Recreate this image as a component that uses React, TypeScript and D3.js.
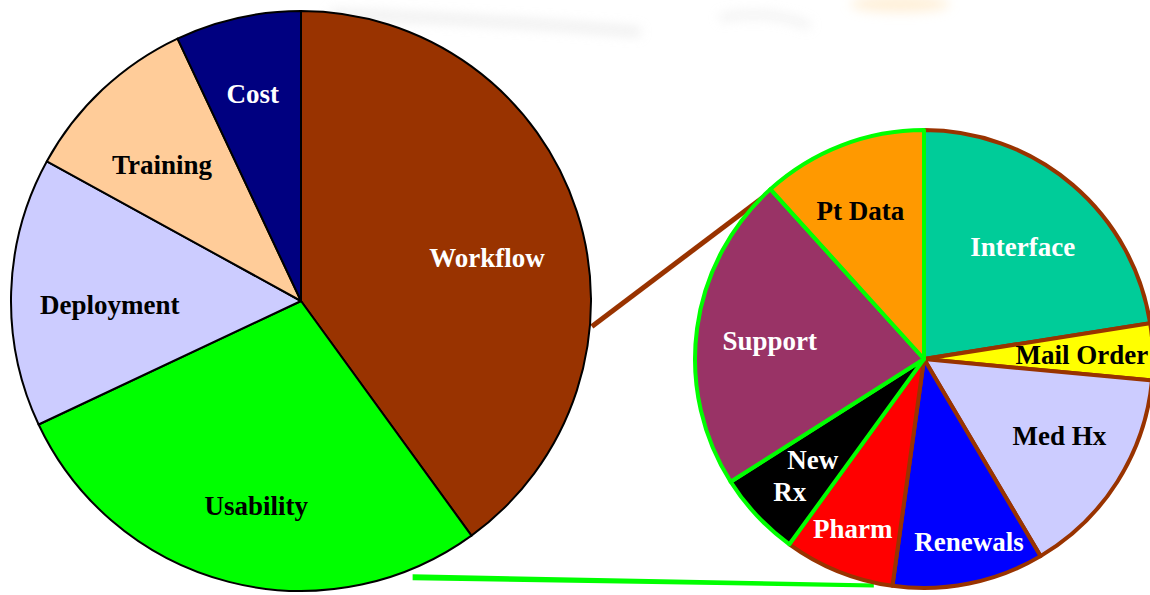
import React from "react";
import * as d3 from "d3";

// ---- data ----
const mainCategories = ["Workflow", "Usability", "Deployment", "Training", "Cost"];
const mainValues = [40, 28, 15, 10, 7];
const mainColors = ["#993300", "#00ff00", "#ccccff", "#ffcc99", "#000080"];
const mainLabelColors = ["#ffffff", "#000000", "#000000", "#000000", "#ffffff"];

const subCategories = ["Interface", "Mail Order", "Med Hx", "Renewals", "Pharm", "New Rx", "Support", "Pt Data"];
const subValues = [22.5, 4, 15, 10.7, 7.8, 6, 22.3, 11.7];
const subGroups = ["Workflow", "Workflow", "Workflow", "Workflow", "Workflow", "Usability", "Usability", "Usability"];
const subColors = ["#00cc99", "#ffff00", "#ccccff", "#0000ff", "#ff0000", "#000000", "#993366", "#ff9900"];
const subLabelColors = ["#ffffff", "#000000", "#000000", "#ffffff", "#ffffff", "#ffffff", "#ffffff", "#000000"];

// ---- layout ----
const W = 1150;
const H = 595;
const big = { cx: 301, cy: 301, r: 290 };
const small = { cx: 924, cy: 359, r: 229 };
const mainLabelR = [0.66, 0.73, 0.66, 0.67, 0.73];
const mainLabelShift = [[4, 16], [8, 0], [0, 10], [-6, 5], [-2, -1]];
const subLabelR = [0.65, 0.69, 0.7, 0.82, 0.81, 0.75, 0.68, 0.7];
const subLabelShift = [[2, 1], [0, 0], [0, -9], [8, -2], [-2, -2], [1, -1], [0, 3], [-6, 1]];
const groupStroke: Record<string, string> = { Workflow: "#993300", Usability: "#00ff00" };
const FONT = "'Liberation Serif', 'Times New Roman', serif";
const FS = 27;

const deg = Math.PI / 180;
const polar = (c: { cx: number; cy: number }, r: number, a: number) => [
  c.cx + r * Math.sin(a * deg),
  c.cy - r * Math.cos(a * deg),
];

export default function App() {
  const pie = d3.pie<number>().sort(null).value((d) => d);
  const mainArcs = pie(mainValues);
  const subArcs = pie(subValues);
  const bigArc = d3.arc<d3.PieArcDatum<number>>().innerRadius(0).outerRadius(big.r);
  const smallArc = d3.arc<d3.PieArcDatum<number>>().innerRadius(0).outerRadius(small.r);

  const labelPos = (a: d3.PieArcDatum<number>, r: number, s: number[]) => {
    const m = (a.startAngle + a.endAngle) / 2;
    return [r * Math.sin(m) + s[0], -r * Math.cos(m) + s[1]];
  };

  // connectors
  const b1 = polar(big, big.r + 2, 95);
  const s1 = polar(small, small.r - 3, 323.6);
  const b2 = polar(big, big.r + 8, 158);
  const s2 = polar(small, small.r + 3, 192.5);

  // draw Workflow-group slices first, Usability-group on top
  const subOrder = subArcs
    .map((a, i) => ({ a, i }))
    .sort((p, q) => (subGroups[p.i] === "Workflow" ? 0 : 1) - (subGroups[q.i] === "Workflow" ? 0 : 1));

  return (
    <svg width={W} height={H} style={{ position: "absolute", left: 0, top: 0, background: "#fff" }}>
      <defs>
        <filter id="blur" x="-50%" y="-200%" width="200%" height="500%">
          <feGaussianBlur stdDeviation="6" />
        </filter>
      </defs>
      {/* faint smudges at top */}
      <g filter="url(#blur)" opacity={0.5}>
        <path d="M 330 14 Q 470 18 640 32" stroke="#d9d9d9" strokeWidth={8} fill="none" />
        <path d="M 720 18 Q 770 8 810 26" stroke="#dcdcdc" strokeWidth={6} fill="none" />
        <ellipse cx={900} cy={4} rx={50} ry={8} fill="#ffe0b0" />
      </g>

      {/* connectors */}
      <line x1={b1[0]} y1={b1[1]} x2={s1[0]} y2={s1[1]} stroke="#993300" strokeWidth={5} />
      <polygon
        points={`${b2[0]},${b2[1] - 3} ${s2[0]},${s2[1] - 2} ${s2[0]},${s2[1] + 2} ${b2[0]},${b2[1] + 3}`}
        fill="#00ff00"
      />

      {/* main pie */}
      <g transform={`translate(${big.cx},${big.cy})`}>
        {mainArcs.map((a, i) => (
          <path key={i} d={bigArc(a) || ""} fill={mainColors[i]} stroke="#000" strokeWidth={2} strokeLinejoin="round" />
        ))}
        {mainArcs.map((a, i) => {
          const [x, y] = labelPos(a, big.r * mainLabelR[i], mainLabelShift[i]);
          return (
            <text
              key={i}
              x={x}
              y={y}
              dy="0.35em"
              textAnchor="middle"
              fontFamily={FONT}
              fontWeight="bold"
              fontSize={FS}
              fill={mainLabelColors[i]}
            >
              {mainCategories[i]}
            </text>
          );
        })}
      </g>

      {/* sub pie */}
      <g transform={`translate(${small.cx},${small.cy})`}>
        {subOrder.map(({ a, i }) => (
          <path
            key={i}
            d={smallArc(a) || ""}
            fill={subColors[i]}
            stroke={groupStroke[subGroups[i]]}
            strokeWidth={4}
            strokeLinejoin="round"
          />
        ))}
        {subArcs.map((a, i) => {
          const [x, y] = labelPos(a, small.r * subLabelR[i], subLabelShift[i]);
          const common = {
            textAnchor: "middle" as const,
            fontFamily: FONT,
            fontWeight: "bold",
            fontSize: FS,
            fill: subLabelColors[i],
          };
          if (subCategories[i] === "New Rx") {
            const parts = subCategories[i].split(" ");
            return (
              <g key={i}>
                <text x={x + 13} y={y - 16} dy="0.35em" {...common}>
                  {parts[0]}
                </text>
                <text x={x - 10} y={y + 16} dy="0.35em" {...common}>
                  {parts[1]}
                </text>
              </g>
            );
          }
          return (
            <text key={i} x={x} y={y} dy="0.35em" {...common}>
              {subCategories[i]}
            </text>
          );
        })}
      </g>
    </svg>
  );
}
